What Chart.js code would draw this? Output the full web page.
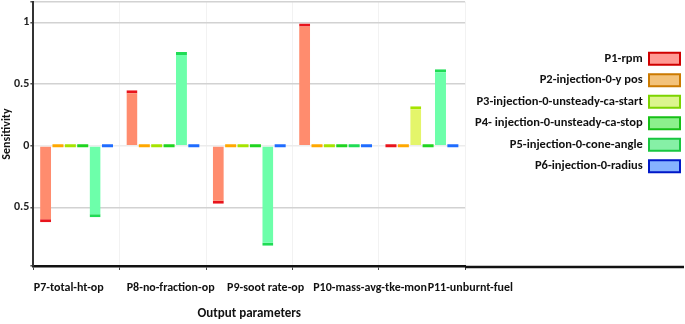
<!DOCTYPE html>
<html>
<head>
<meta charset="utf-8">
<script src="https://cdn.jsdelivr.net/npm/chart.js@4.4.1/dist/chart.umd.min.js"></script>
<style>
  html, body { margin: 0; padding: 0; background: #fff; }
  #wrap { width: 685px; height: 324px; }
</style>
</head>
<body>
<div id="wrap"><canvas id="chart"></canvas></div>
<script>
// output parameters (x categories)
const outputs = ['P7-total-ht-op', 'P8-no-fraction-op', 'P9-soot rate-op', 'P10-mass-avg-tke-mon', 'P11-unburnt-fuel'];
// input parameters (series)
const inputs = ['P1-rpm', 'P2-injection-0-y pos', 'P3-injection-0-unsteady-ca-start',
  'P4- injection-0-unsteady-ca-stop', 'P5-injection-0-cone-angle', 'P6-injection-0-radius'];

// sensitivity of each output to each input
const p1Values = [-0.62, 0.45, -0.47, 0.99, 0];
const p2Values = [0, 0, 0, 0, 0];
const p3Values = [0, 0, 0, 0, 0.32];
const p4Values = [0, 0, 0, 0, 0];
const p5Values = [-0.58, 0.76, -0.81, 0, 0.62];
const p6Values = [0, 0, 0, 0, 0];

const yTicks = [-0.5, 0, 0.5, 1];

// in the original figure the category names drift right of their groups
const labelShift = [-0.09, 0.09, 0.19, 0.40, 0.56];

const fillColors = ['#ff8c6e', '#ffc45a', '#e4f56a', '#72ee72', '#6dffaa', '#5c9dff'];
const edgeColors = ['#e8141c', '#ffa800', '#a6e400', '#1fd41f', '#1fdc55', '#1f6cff'];
const legendEdge = ['#d00000', '#cc7a00', '#7cd400', '#16c016', '#19c640', '#0018c8'];
const legendFill = ['#ff9a94', '#f3c27a', '#dcf58e', '#8cf08c', '#86f0a6', '#86b2ff'];

const FONT = "Carlito, 'Liberation Sans', sans-serif";

const seriesValues = [p1Values, p2Values, p3Values, p4Values, p5Values, p6Values];

const datasets = inputs.map((name, i) => ({
  label: name,
  data: seriesValues[i],
  backgroundColor: ctx => (ctx.raw === 0 ? edgeColors[i] : fillColors[i]),
  borderColor: edgeColors[i],
  borderWidth: ctx => (ctx.raw === 0 ? 0 : {top: 3, bottom: 3, left: 0, right: 0}),
  borderSkipped: 'start',
  minBarLength: 3,
  categoryPercentage: 0.86,
  barPercentage: 0.89
}));

// continue the black x axis under the legend
const axisExtend = {
  id: 'axisExtend',
  afterDraw(chart) {
    const {ctx, chartArea, width} = chart;
    ctx.save();
    ctx.strokeStyle = '#111';
    ctx.lineWidth = 2.5;
    ctx.beginPath();
    ctx.moveTo(chartArea.right, chartArea.bottom + 1);
    ctx.lineTo(width - 1, chartArea.bottom + 1);
    ctx.stroke();
    ctx.restore();
  }
};

new Chart(document.getElementById('chart'), {
  type: 'bar',
  data: { labels: outputs, datasets: datasets },
  options: {
    responsive: true,
    maintainAspectRatio: false,
    animation: false,
    layout: { autoPadding: false, padding: { left: 0, top: 2, right: -4, bottom: 2 } },
    plugins: {
      tooltip: { enabled: false },
      legend: {
        position: 'right',
        align: 'start',
        rtl: true,
        maxWidth: 260,
        title: { display: true, text: '', padding: { top: 27, bottom: 0 } },
        labels: {
          boxWidth: 31,
          boxHeight: 12,
          padding: 9,
          color: '#111',
          font: { family: FONT, size: 12.5, weight: 'bold' },
          generateLabels: chart => chart.data.datasets.map((ds, i) => ({
            text: ds.label,
            fillStyle: legendFill[i],
            strokeStyle: legendEdge[i],
            lineWidth: 2,
            fontColor: '#111',
            hidden: false,
            datasetIndex: i
          }))
        }
      }
    },
    scales: {
      x: {
        offset: true,
        border: { color: '#111', width: 2.5 },
        grid: { offset: true, color: '#f2f2f2', tickColor: '#444', tickLength: 4 },
        ticks: { display: false }
      },
      xl: {
        type: 'linear',
        position: 'bottom',
        offset: false,
        min: -0.5,
        max: outputs.length - 0.5,
        afterBuildTicks: axis => {
          axis.ticks = outputs.map((_, i) => ({ value: i + labelShift[i] }));
        },
        border: { display: false },
        grid: { display: false, offset: false, drawTicks: false },
        ticks: {
          color: '#111',
          padding: 11,
          maxRotation: 0,
          autoSkip: false,
          font: { family: FONT, size: 12, weight: 'bold' },
          callback: (v, i) => outputs[i]
        },
        title: {
          display: true,
          text: 'Output parameters',
          color: '#111',
          padding: { top: 0, bottom: 0 },
          font: { family: FONT, size: 13, weight: 'bold' }
        }
      },
      y: {
        min: -0.975,
        max: 1.165,
        afterBuildTicks: axis => {
          axis.ticks = [axis.min].concat(yTicks, [axis.max]).map(v => ({ value: v }));
        },
        border: { color: '#333', width: 2 },
        grid: {
          color: ctx => (ctx.tick && ctx.tick.value === 0 ? '#ececec' : '#d2d2d2'),
          lineWidth: 1.5,
          tickColor: '#555',
          tickLength: 3
        },
        ticks: {
          color: '#222',
          padding: 1,
          font: ctx => ({ family: FONT, size: ctx.tick && yTicks.includes(ctx.tick.value) ? 12 : 1, weight: 'bold' }),
          callback: v => (yTicks.includes(v) ? String(Math.abs(v)) : '')
        },
        title: {
          display: true,
          text: 'Sensitivity',
          color: '#111',
          padding: { top: 1, bottom: 0 },
          font: { family: FONT, size: 12, weight: 'bold', lineHeight: 1 }
        }
      }
    }
  },
  plugins: [axisExtend]
});
</script>
</body>
</html>
